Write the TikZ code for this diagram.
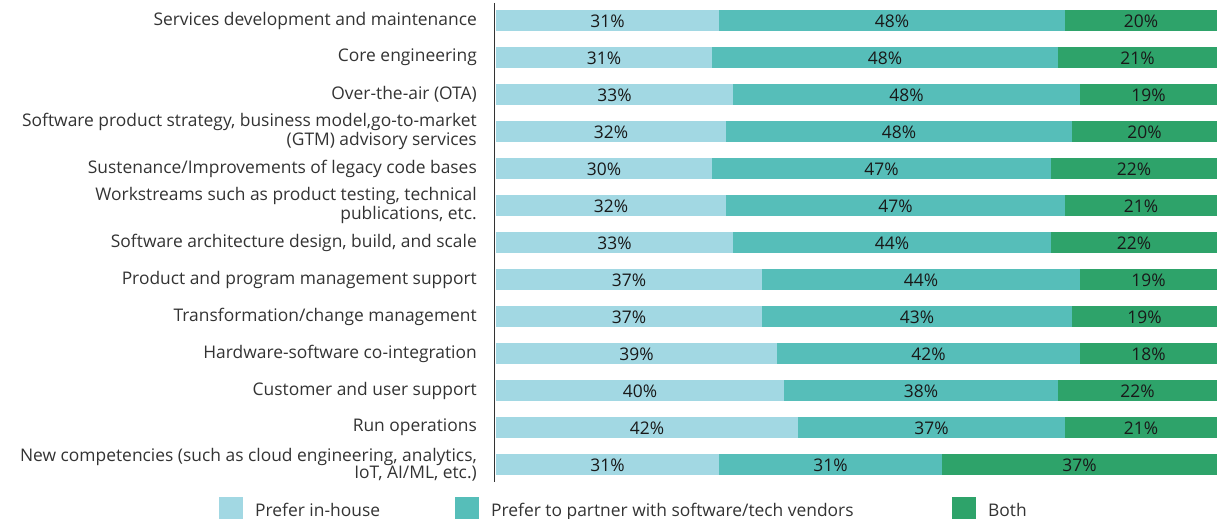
\documentclass[tikz,border=0pt]{standalone}
\usepackage{fontspec}
\setmainfont{Open Sans}
\definecolor{inhouse}{HTML}{A2D8E3}
\definecolor{partner}{HTML}{56BEB9}
\definecolor{both}{HTML}{2EA36A}
\definecolor{labelgray}{HTML}{333333}
\begin{document}
\begin{tikzpicture}[x=1pt,y=-1pt,
		lbl/.style={anchor=east,align=right,text=labelgray,inner sep=0pt,font=\fontsize{17.4}{17}\selectfont},
		pct/.style={text=black!90,inner sep=0pt,font=\fontsize{17.4}{17}\selectfont},
		legtxt/.style={anchor=base west,text=labelgray,inner sep=0pt,font=\fontsize{17.4}{17}\selectfont}]
	\useasboundingbox (0,0) rectangle (1229,519);
	\def\xa{496}
	\def\xb{1217}
	\def\bh{21}
	\def\pitch{37}
	% bars: row / end of in-house / end of partner / three values / label
	\foreach \i/\p/\q/\a/\b/\c/\txt in {
			1/719/1065/31/48/20/{Services development and maintenance},
			2/712/1058/31/48/21/{Core engineering},
			3/733/1080/33/48/19/{Over-the-air (OTA)},
			4/726/1072/32/48/20/{Software product strategy, business model,go-to-market\\(GTM) advisory services},
			5/712/1051/30/47/22/{Sustenance/Improvements of legacy code bases},
			6/726/1065/32/47/21/{Workstreams such as product testing, technical\\publications, etc.},
			7/733/1051/33/44/22/{Software architecture design, build, and scale},
			8/762/1080/37/44/19/{Product and program management support},
			9/762/1072/37/43/19/{Transformation/change management},
			10/777/1080/39/42/18/{Hardware-software co-integration},
			11/784/1058/40/38/22/{Customer and user support},
			12/798/1065/42/37/21/{Run operations},
			13/719/942/31/31/37/{New competencies (such as cloud engineering, analytics,\\IoT, AI/ML, etc.)}}{
		\pgfmathsetmacro\ytop{10+(\i-1)*\pitch}
		\pgfmathsetmacro\ymid{\ytop+\bh/2}
		\fill[inhouse] (\xa,\ytop) rectangle (\p,\ytop+\bh);
		\fill[partner] (\p,\ytop) rectangle (\q,\ytop+\bh);
		\fill[both] (\q,\ytop) rectangle (\xb,\ytop+\bh);
		\node[pct] (in-\i) at ({(\xa+\p)/2},\ymid+1) {\a\%};
		\node[pct] (partner-\i) at ({(\p+\q)/2},\ymid+1) {\b\%};
		\node[pct] (both-\i) at ({(\q+\xb)/2},\ymid+1) {\c\%};
		\node[lbl] (lbl-\i) at (477,\ymid) {\txt};
	}
	% axis
	\draw[labelgray,line width=1.5pt] (494.5,3)--(494.5,482);
	% legend
	\foreach \n/\x/\col/\txt in {inhouse/219/inhouse/{Prefer in-house},
			partner/455/partner/{Prefer to partner with software/tech vendors},
			both/952/both/{Both}}{
		\fill[\col] (\x,497) rectangle (\x+24,521);
		\node[legtxt] (leg-\n) at (\x+36,516.5) {\txt};
	}
\end{tikzpicture}
\end{document}
